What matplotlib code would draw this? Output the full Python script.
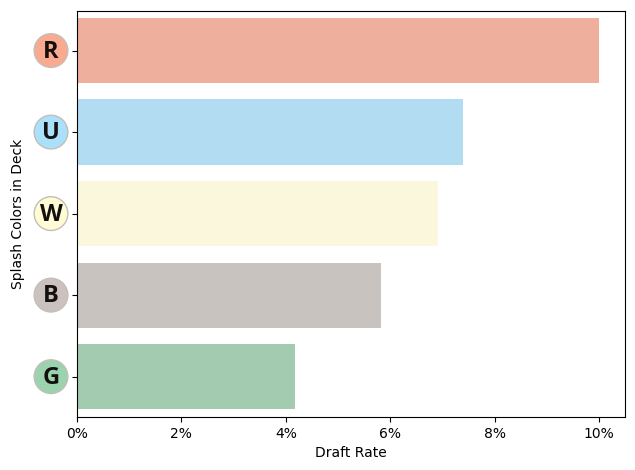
import matplotlib.pyplot as plt
from matplotlib.ticker import FuncFormatter

colors = ['R', 'U', 'W', 'B', 'G']
rates = [10.0, 7.39, 6.92, 5.82, 4.18]
bar_colors = ['#eeb09c', '#b2dcf1', '#fbf7dc', '#c9c3c0', '#a2cbaf']
icon_colors = ['#f9aa8f', '#aae0fa', '#fffbd5', '#cbc2bf', '#9bd3ae']


def main():
    fig = plt.figure(figsize=(6.35, 4.7), dpi=100)
    ax = fig.add_axes([77 / 635, 1 - 417 / 470, 548 / 635, 406 / 470])

    ypos = list(range(len(colors)))
    ax.barh(ypos, rates, height=0.8, color=bar_colors)

    ax.set_xlim(0, 10.5)
    ax.set_ylim(4.495, -0.485)
    ax.set_xticks([0, 2, 4, 6, 8, 10])
    ax.xaxis.set_major_formatter(FuncFormatter(lambda v, pos: '{:.0f}%'.format(v)))
    ax.set_yticks(ypos)
    ax.set_yticklabels([])
    ax.set_xlabel('Draft Rate')
    ax.set_ylabel('Splash Colors in Deck', labelpad=30.5)

    # mana symbols sit left of the axis, x is in axes fraction
    trans = ax.get_yaxis_transform()
    icon_x = -26 / 548
    ax.scatter([icon_x] * len(colors), ypos, s=590, c=icon_colors, edgecolors='#c2bfb8',
               linewidths=1.0, transform=trans, clip_on=False, zorder=5)
    for y, letter in zip(ypos, colors):
        ax.annotate(letter, xy=(icon_x, y), xycoords=trans, xytext=(0, -0.8),
                    textcoords='offset points', ha='center', va='center',
                    family='Open Sans', weight='bold', fontsize=17, color='#14100f',
                    annotation_clip=False, zorder=6)

    fig.savefig('out.png', dpi=100)


if __name__ == "__main__":
    main()
